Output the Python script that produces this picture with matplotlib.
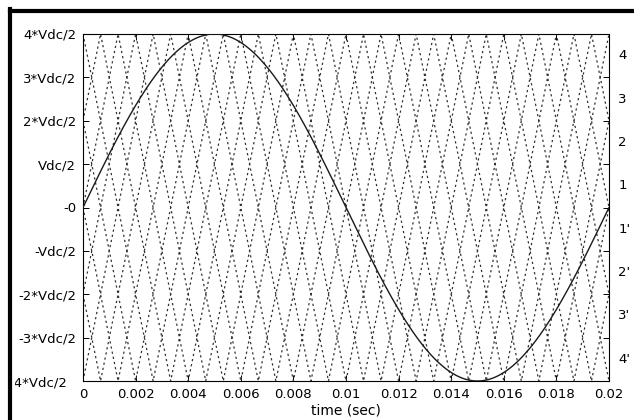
import numpy as np
import matplotlib
matplotlib.use("Agg")
import matplotlib.pyplot as plt
from matplotlib.lines import Line2D
from matplotlib import transforms

# Reference (modulating) wave
fund_freq = 50.0          # Hz
ref_amplitude = 4.0       # in units of Vdc/2
t_end = 0.02              # one fundamental period, s

# Triangular carriers, one per voltage band (alternate phase opposition)
carrier_freq = 1500.0     # Hz
band_lower = [-4, -3, -2, -1, 0, 1, 2, 3]
band_starts_low = [True, False, True, False, True, False, True, False]
band_labels = ["4'", "3'", "2'", "1'", "1", "2", "3", "4"]

# Axis ticks
y_ticks = [-4, -3, -2, -1, 0, 1, 2, 3, 4]
y_tick_labels = ["-4*Vdc/2", "-3*Vdc/2", "-2*Vdc/2", "-Vdc/2", "-0",
                 "Vdc/2", "2*Vdc/2", "3*Vdc/2", "4*Vdc/2"]
x_ticks = [0, 0.002, 0.004, 0.006, 0.008, 0.01, 0.012, 0.014, 0.016, 0.018, 0.02]
x_tick_labels = ["0", "0.002", "0.004", "0.006", "0.008", "0.01",
                 "0.012", "0.014", "0.016", "0.018", "0.02"]

plt.rcParams["font.family"] = ["DejaVu Sans"]

fig = plt.figure(figsize=(6.34, 4.2), dpi=100)
ax = fig.add_axes([83 / 634, 1 - 381 / 420, (609 - 83) / 634, (381 - 34) / 420])

# carriers: vertices at every half period
half = 0.5 / carrier_freq
n_half = int(round(t_end / half))
t_vert = np.arange(n_half + 1) * half
for low, starts_low in zip(band_lower, band_starts_low):
    up = (np.arange(n_half + 1) % 2 == 1)
    if not starts_low:
        up = ~up
    v = np.where(up, low + 1, low)
    ax.plot(t_vert, v, color="#333333", lw=0.9, linestyle=(0, (1.8, 2.4)), zorder=2)

# reference sine
t = np.linspace(0, t_end, 2000)
ax.plot(t, ref_amplitude * np.sin(2 * np.pi * fund_freq * t), color="#1a1a1a", lw=1.0, zorder=3)

ax.set_xlim(0, t_end)
ax.set_ylim(-4, 4)
ax.set_xticks(x_ticks)
ax.set_xticklabels(x_tick_labels)
ax.set_yticks(y_ticks)
ax.set_yticklabels(y_tick_labels)
ax.tick_params(direction="in", length=4, width=0.7, labelsize=9.5, pad=5,
               top=True, right=True, colors="black")
ax.set_xlabel("time (sec)", fontsize=10, labelpad=2)
for s in ax.spines.values():
    s.set_linewidth(0.8)

# the lowest y label sits partly under the frame: shift it and clip at the frame edge
lbl = ax.get_yticklabels()[0]
lbl.set_transform(lbl.get_transform() + transforms.ScaledTranslation(-9 / 100, -1 / 100, fig.dpi_scale_trans))
clip_box = transforms.TransformedBbox(transforms.Bbox([[14.5 / 634, 0], [1, 1]]), fig.transFigure)
lbl.set_clip_on(True)
lbl.set_clip_box(clip_box)

# band labels on the right
blend = transforms.blended_transform_factory(ax.transAxes, ax.transData)
for low, lab in zip(band_lower, band_labels):
    ax.text(1.018, low + 0.5, lab, transform=blend, ha="left", va="center", fontsize=9.5)

# outer frame (left and top edges)
fig.add_artist(Line2D([9.5 / 634, 9.5 / 634], [0, 1 - 9 / 420], transform=fig.transFigure,
                      color="black", lw=3.0, zorder=10, solid_capstyle="projecting"))
fig.add_artist(Line2D([9.5 / 634, 1], [1 - 11 / 420, 1 - 11 / 420], transform=fig.transFigure,
                      color="black", lw=3.0, zorder=10, solid_capstyle="projecting"))

fig.savefig("out.png", dpi=100, facecolor="white")
